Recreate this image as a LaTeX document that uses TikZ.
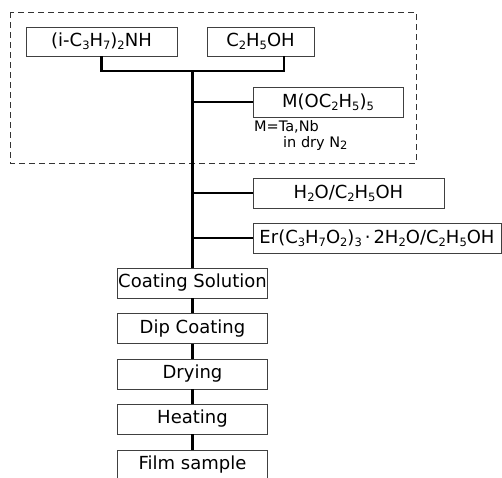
\documentclass[tikz,border=0pt]{standalone}
\usepackage{fontspec}
\setmainfont{DejaVu Sans}
\usetikzlibrary{positioning,calc}

\newcommand{\chemsub}[1]{\raisebox{-0.3ex}{\fontsize{11.5}{12}\selectfont #1}}

\begin{document}
\begin{tikzpicture}[x=1pt, y=-1pt,
    box/.style={draw=black!75, line width=0.8pt, inner sep=0pt,
                minimum height=30pt, font=\fontsize{18}{20}\selectfont},
    note/.style={inner sep=0pt, font=\fontsize{14.5}{15}\selectfont},
    link/.style={line width=2.4pt}]
    \useasboundingbox (0,0) rectangle (502,477);

    % Starting solution (in dry N2)
    \draw[black!80, line width=0.8pt, dash pattern=on 6pt off 4pt] (10,12) rectangle (416,163);
    \node[box, minimum width=151pt, minimum height=29pt] (amine) at (101.5,41.5) {(i-C\chemsub{3}H\chemsub{7})\chemsub{2}NH};
    \node[box, minimum width=107pt, minimum height=29pt] (ethanol) at (260.5,41.5) {C\chemsub{2}H\chemsub{5}OH};
    \node[box, minimum width=150pt] (alkoxide) at (328,102) {M(OC\chemsub{2}H\chemsub{5})\chemsub{5}};
    \node[note, anchor=west] (metal) at (254,127) {M=Ta,Nb};
    \node[note, anchor=west] (atmos) at (283,143) {in dry N\chemsub{2}};

    % Additions
    \node[box, minimum width=191pt] (water) at (348.5,193) {H\chemsub{2}O/C\chemsub{2}H\chemsub{5}OH};
    \node[box, minimum width=248pt] (erbium) at (377,238) {Er(C\chemsub{3}H\chemsub{7}O\chemsub{2})\chemsub{3}\,·\,2H\chemsub{2}O/C\chemsub{2}H\chemsub{5}OH};

    % Process steps
    \node[box, minimum width=150pt] (coat) at (192.5,283) {Coating Solution};
    \node[box, minimum width=150pt] (dip) at (192.5,328.5) {Dip Coating};
    \node[box, minimum width=150pt] (dry) at (192.5,374) {Drying};
    \node[box, minimum width=150pt] (heat) at (192.5,419) {Heating};
    \node[box, minimum width=150pt] (film) at (192.5,465) {Film sample};

    % Connectors
    \coordinate (hub) at (192.5,71);
    \coordinate (etfoot) at (284,71);
    \draw[link] (amine.south) |- (etfoot) -- (etfoot |- ethanol.south);
    \draw[link] (hub) -- (coat.north);
    \draw[link] (hub |- alkoxide) -- (alkoxide.west);
    \draw[link] (hub |- water) -- (water.west);
    \draw[link] (hub |- erbium) -- (erbium.west);
    \draw[link] (coat) -- (dip);
    \draw[link] (dip) -- (dry);
    \draw[link] (dry) -- (heat);
    \draw[link] (heat) -- (film);
\end{tikzpicture}
\end{document}
